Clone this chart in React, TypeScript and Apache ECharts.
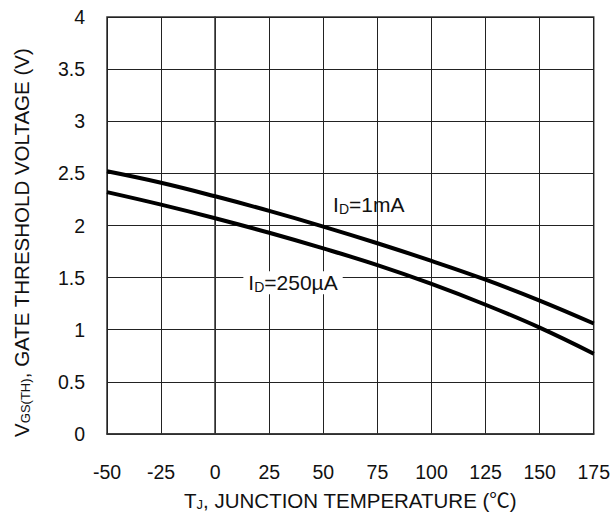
import React, { useEffect, useRef } from "react";
import * as echarts from "echarts";

// Junction temperature (°C) at which threshold voltage is sampled
const temperatures = [-50, -25, 0, 25, 50, 75, 100, 125, 150, 175];
// V_GS(TH) for I_D = 1 mA
const vth1mA = [2.52, 2.41, 2.28, 2.14, 1.99, 1.83, 1.66, 1.48, 1.28, 1.06];
// V_GS(TH) for I_D = 250 µA
const vth250uA = [2.32, 2.2, 2.07, 1.93, 1.78, 1.62, 1.44, 1.24, 1.02, 0.77];

// Curve annotation anchors [temperature, voltage]
const label1mAAt = [71, 2.2];
const label250uAAt = [36, 1.45];

const FONT = "'Liberation Sans', Arial, 'Noto Sans CJK SC', sans-serif";
const FS = 19.5;

const richOf = (size: number, subSize: number, drop: number) => ({
  n: { fontSize: size, fontFamily: FONT, color: "#111" },
  s: { fontSize: subSize, fontFamily: FONT, color: "#111", padding: [drop, 0, 0, 0] },
});

const titleRich = richOf(20.5, 13, 9);
const noteRich = richOf(21, 14, 9);

const annotation = (coord: number[], text: string, boxed: boolean) => ({
  symbol: "circle",
  symbolSize: 1,
  itemStyle: { color: "rgba(0,0,0,0)" },
  data: [
    {
      coord,
      label: {
        show: true,
        position: "inside",
        formatter: text,
        rich: noteRich,
        backgroundColor: boxed ? "#fff" : "transparent",
        padding: boxed ? [0, 5, 0, 5] : 0,
      },
    },
  ],
});

export default function App() {
  const ref = useRef<HTMLDivElement>(null);

  useEffect(() => {
    if (!ref.current) return;
    const chart = echarts.init(ref.current, undefined, { renderer: "svg" });

    const toPairs = (ys: number[]) => temperatures.map((t, i) => [t, ys[i]]);

    chart.setOption({
      animation: false,
      backgroundColor: "#fff",
      grid: {
        left: 107,
        right: 19,
        top: 17,
        bottom: 78,
        show: true,
        borderColor: "#333",
        borderWidth: 1.5,
      },
      xAxis: {
        type: "value",
        min: -50,
        max: 175,
        interval: 25,
        name: "{n|T}{s|J}{n|, JUNCTION TEMPERATURE (℃)}",
        nameLocation: "middle",
        nameGap: 55,
        nameTextStyle: { rich: titleRich },
        axisLine: { show: true, lineStyle: { color: "#333", width: 1.5 } },
        axisTick: { show: false },
        axisLabel: { margin: 28, fontSize: FS, fontFamily: FONT, color: "#111" },
        splitLine: { show: true, lineStyle: { color: "#222", width: 1 } },
      },
      yAxis: {
        type: "value",
        min: 0,
        max: 4,
        interval: 0.5,
        name: "{n|V}{s|GS(TH)}{n|, GATE THRESHOLD VOLTAGE (V)}",
        nameLocation: "middle",
        nameGap: 75,
        nameTextStyle: { rich: titleRich, padding: [0, 34, 0, 0] },
        axisLine: { show: true, lineStyle: { color: "#333", width: 1.5 } },
        axisTick: { show: false },
        axisLabel: { margin: 22, fontSize: FS, fontFamily: FONT, color: "#111" },
        splitLine: { show: true, lineStyle: { color: "#222", width: 1 } },
      },
      series: [
        {
          type: "line",
          data: toPairs(vth1mA),
          smooth: 0.4,
          showSymbol: false,
          lineStyle: { color: "#000", width: 4 },
          markPoint: annotation(label1mAAt, "{n|I}{s|D}{n|=1mA}", false),
        },
        {
          type: "line",
          data: toPairs(vth250uA),
          smooth: 0.4,
          showSymbol: false,
          lineStyle: { color: "#000", width: 4 },
          markPoint: annotation(label250uAAt, "{n|I}{s|D}{n|=250µA}", true),
        },
      ],
    });

    return () => chart.dispose();
  }, []);

  return (
    <div
      ref={ref}
      style={{ position: "fixed", left: 0, top: 0, width: 613, height: 516 }}
    />
  );
}
